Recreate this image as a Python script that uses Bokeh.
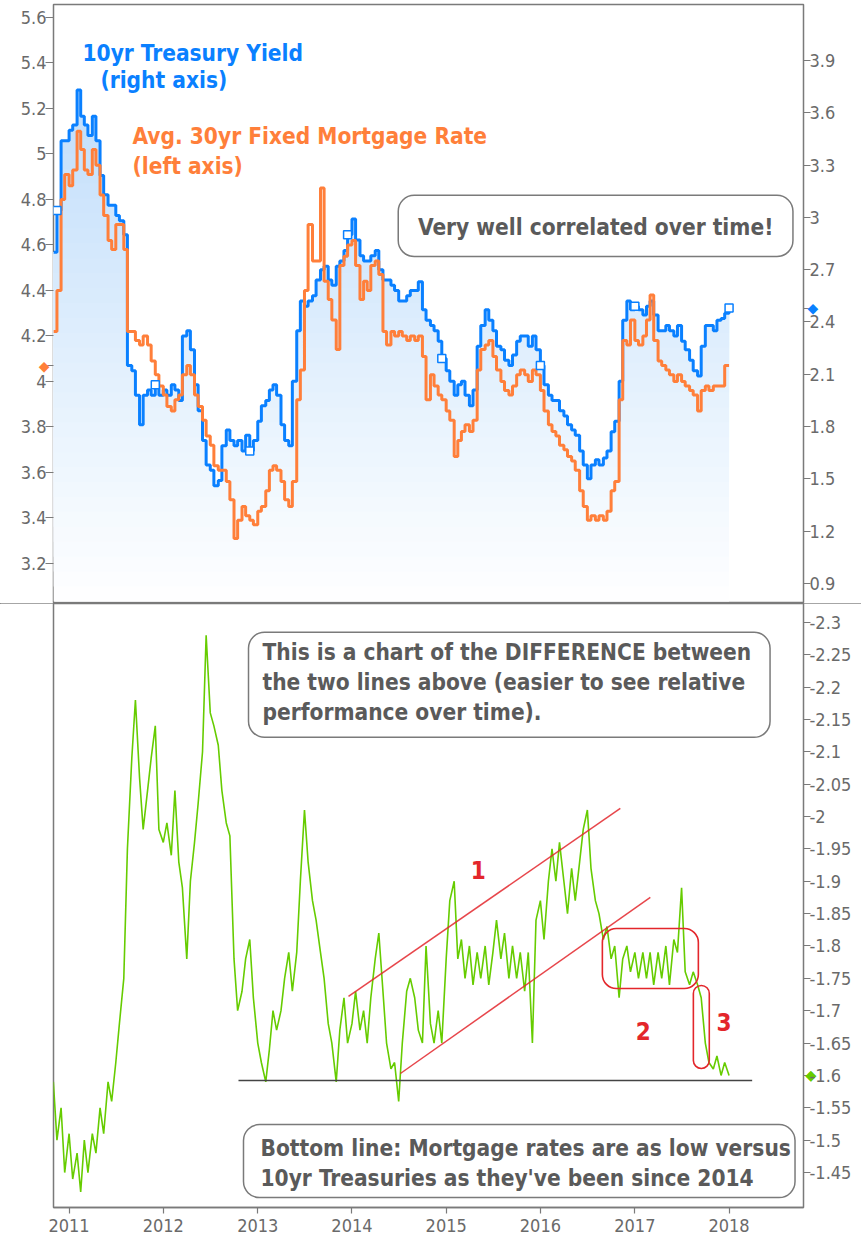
import numpy as np
import pandas as pd
from bokeh.plotting import figure
from bokeh.models import (Range1d, LinearAxis, FixedTicker, DatetimeTickFormatter,
                          Label, BoxAnnotation)
from bokeh.layouts import column
from bokeh.embed import file_html
from bokeh.resources import INLINE

# ---------------- data (semi-monthly readings, Nov 2010 .. Jan 2018) ----------------
treasury = [
    2.80, 3.04, 3.44, 3.44, 3.50, 3.53, 3.73, 3.58, 3.53, 3.47,
    3.58, 3.44, 3.24, 3.13, 3.07, 3.07, 3.01, 2.98, 2.90, 2.15,
    2.12, 1.98, 1.81, 1.98, 2.01, 1.98, 2.04, 1.98, 2.01, 1.98,
    2.04, 2.01, 1.95, 2.32, 2.35, 2.24, 2.04, 1.89, 1.72, 1.58,
    1.55, 1.46, 1.49, 1.69, 1.78, 1.72, 1.69, 1.72, 1.66, 1.75,
    1.66, 1.72, 1.83, 1.92, 1.95, 2.01, 2.04, 1.98, 1.81, 1.72,
    1.69, 2.06, 2.35, 2.52, 2.49, 2.52, 2.55, 2.64, 2.70, 2.72,
    2.64, 2.61, 2.72, 2.75, 2.81, 2.90, 2.99, 2.87, 2.78, 2.75,
    2.75, 2.78, 2.81, 2.70, 2.64, 2.64, 2.61, 2.58, 2.52, 2.52,
    2.55, 2.58, 2.58, 2.63, 2.47, 2.41, 2.38, 2.35, 2.29, 2.19,
    2.12, 2.06, 1.98, 2.04, 2.06, 1.98, 1.92, 2.01, 2.26, 2.38,
    2.47, 2.41, 2.35, 2.26, 2.24, 2.18, 2.15, 2.21, 2.29, 2.32,
    2.32, 2.26, 2.32, 2.24, 2.15, 2.04, 1.98, 1.95, 1.95, 1.89,
    1.86, 1.81, 1.78, 1.75, 1.66, 1.58, 1.50, 1.58, 1.61, 1.58,
    1.62, 1.66, 1.77, 1.83, 2.06, 2.41, 2.52, 2.47, 2.49, 2.47,
    2.44, 2.49, 2.52, 2.44, 2.35, 2.35, 2.38, 2.35, 2.32, 2.38,
    2.29, 2.24, 2.18, 2.12, 2.09, 2.26, 2.38, 2.38, 2.35, 2.41,
    2.42, 2.45, 2.48,
]
mortgage = [
    4.22, 4.40, 4.80, 4.91, 4.86, 4.93, 5.10, 5.02, 4.93, 4.91,
    5.02, 4.95, 4.82, 4.73, 4.62, 4.58, 4.69, 4.69, 4.58, 4.22,
    4.22, 4.18, 4.16, 4.20, 4.16, 4.09, 4.03, 3.98, 3.94, 3.89,
    3.87, 3.92, 3.94, 4.03, 4.07, 4.03, 3.94, 3.89, 3.83, 3.76,
    3.72, 3.63, 3.61, 3.61, 3.56, 3.48, 3.31, 3.39, 3.45, 3.41,
    3.39, 3.37, 3.43, 3.45, 3.52, 3.61, 3.63, 3.61, 3.56, 3.48,
    3.45, 3.56, 3.92, 4.05, 4.40, 4.69, 4.53, 4.53, 4.85, 4.44,
    4.36, 4.27, 4.14, 4.51, 4.55, 4.60, 4.62, 4.51, 4.36, 4.44,
    4.40, 4.51, 4.53, 4.47, 4.22, 4.16, 4.22, 4.20, 4.22, 4.20,
    4.18, 4.20, 4.18, 4.20, 4.11, 3.92, 4.03, 3.98, 3.94, 3.92,
    3.87, 3.83, 3.67, 3.74, 3.78, 3.81, 3.78, 3.83, 4.05, 4.14,
    4.16, 4.18, 4.11, 4.05, 4.00, 3.96, 3.94, 3.98, 4.03, 4.05,
    4.03, 4.00, 4.05, 4.03, 3.96, 3.87, 3.81, 3.78, 3.76, 3.72,
    3.70, 3.67, 3.65, 3.61, 3.52, 3.45, 3.39, 3.41, 3.39, 3.41,
    3.39, 3.43, 3.52, 3.56, 3.92, 4.18, 4.16, 4.27, 4.18, 4.16,
    4.20, 4.27, 4.38, 4.18, 4.09, 4.07, 4.05, 4.03, 4.00, 4.03,
    4.00, 3.98, 3.96, 3.94, 3.87, 3.96, 3.98, 3.96, 3.98, 3.98,
    3.98, 4.07, 4.07,
]
difference = [
    -1.59, -1.50, -1.55, -1.45, -1.51, -1.44, -1.48, -1.42, -1.50, -1.45,
    -1.51, -1.48, -1.55, -1.51, -1.59, -1.56, -1.62, -1.68, -1.75, -1.95,
    -2.09, -2.18, -2.06, -1.98, -2.04, -2.09, -2.14, -1.98, -1.96, -1.99,
    -1.94, -2.04, -1.93, -1.89, -1.78, -1.90, -1.96, -2.02, -2.10, -2.28,
    -2.16, -2.14, -2.11, -2.04, -1.99, -1.97, -1.78, -1.70, -1.73, -1.78,
    -1.81, -1.72, -1.65, -1.62, -1.59, -1.64, -1.70, -1.67, -1.70, -1.75,
    -1.79, -1.73, -1.79, -1.90, -2.01, -1.93, -1.87, -1.84, -1.79, -1.75,
    -1.68, -1.65, -1.59, -1.67, -1.72, -1.65, -1.68, -1.73, -1.67, -1.70,
    -1.65, -1.72, -1.78, -1.82, -1.73, -1.65, -1.61, -1.62, -1.56, -1.65,
    -1.73, -1.75, -1.72, -1.67, -1.65, -1.80, -1.68, -1.65, -1.70, -1.65,
    -1.78, -1.87, -1.90, -1.78, -1.81, -1.75, -1.80, -1.74, -1.79, -1.75,
    -1.80, -1.74, -1.79, -1.84, -1.78, -1.82, -1.75, -1.80, -1.75, -1.79,
    -1.73, -1.79, -1.65, -1.84, -1.87, -1.81, -1.90, -1.95, -1.90, -1.96,
    -1.90, -1.85, -1.92, -1.87, -1.93, -1.98, -2.01, -1.92, -1.87, -1.85,
    -1.81, -1.83, -1.78, -1.80, -1.72, -1.78, -1.80, -1.76, -1.79, -1.75,
    -1.79, -1.75, -1.79, -1.74, -1.79, -1.75, -1.80, -1.74, -1.81, -1.79,
    -1.89, -1.76, -1.74, -1.76, -1.74, -1.72, -1.65, -1.62, -1.61, -1.63,
    -1.60, -1.62, -1.60,
]
marker_idx = [1, 26, 50, 75, 99, 124, 148, 172]

left_ticks = [3.2, 3.4, 3.6, 3.8, 4.0, 4.2, 4.4, 4.6, 4.8, 5.0, 5.2, 5.4, 5.6]
left_labels = ["3.2", "3.4", "3.6", "3.8", "4", "4.2", "4.4", "4.6", "4.8", "5", "5.2", "5.4", "5.6"]
right_ticks = [0.9, 1.2, 1.5, 1.8, 2.1, 2.4, 2.7, 3.0, 3.3, 3.6, 3.9]
right_labels = ["0.9", "1.2", "1.5", "1.8", "2.1", "2.4", "2.7", "3", "3.3", "3.6", "3.9"]
diff_ticks = [-2.3, -2.25, -2.2, -2.15, -2.1, -2.05, -2.0, -1.95, -1.9, -1.85,
              -1.8, -1.75, -1.7, -1.65, -1.6, -1.55, -1.5, -1.45]
diff_labels = ["-2.3", "-2.25", "-2.2", "-2.15", "-2.1", "-2.05", "-2", "-1.95", "-1.9", "-1.85",
               "-1.8", "-1.75", "-1.7", "-1.65", "-1.6", "-1.55", "-1.5", "-1.45"]
year_ticks = [2011, 2012, 2013, 2014, 2015, 2016, 2017, 2018]

dates = pd.date_range("2010-11-01", periods=len(treasury), freq="SMS")
treas = np.array(treasury)
mort = np.array(mortgage)
diff = np.array(difference)

# ---------------- style ----------------
BLUE = "#0A80FF"
ORANGE = "#FF7F3A"
GREEN = "#66CC00"
RED = "#E3262B"
GREY_TXT = "#5A5A5A"
AX = "#7A7A7A"
TICK_TXT = "#6A6A6A"
FONT = "DejaVu Sans Condensed"


def yr(f):
    y = int(np.floor(f))
    a = pd.Timestamp(y, 1, 1)
    b = pd.Timestamp(y + 1, 1, 1)
    return (a + (b - a) * (f - y)).timestamp() * 1000.0


def tick_axis(ticks, last, color, y_range_name="default", tick_len=8, standoff=-4):
    """Inner axis next to the frame: tick marks + last-value diamond label."""
    allt = list(ticks) + [last]
    ax = LinearAxis(y_range_name=y_range_name, ticker=FixedTicker(ticks=allt))
    ov = {t: "" for t in ticks}
    ov[last] = "\u25c6"
    ax.major_label_overrides = ov
    ax.axis_line_color = None
    ax.major_tick_line_color = AX
    ax.major_tick_line_width = 1.2
    ax.major_tick_out = tick_len
    ax.major_tick_in = 0
    ax.minor_tick_line_color = None
    ax.minor_tick_out = 0
    ax.minor_tick_in = 0
    ax.major_label_standoff = standoff
    ax.major_label_text_font = "DejaVu Sans"
    ax.major_label_text_font_size = "14px"
    ax.major_label_text_color = color
    return ax


def label_axis(ticks, labels, y_range_name="default", standoff=0):
    """Outer axis: numeric tick labels only."""
    ax = LinearAxis(y_range_name=y_range_name, ticker=FixedTicker(ticks=ticks))
    ax.major_label_overrides = dict(zip(ticks, labels))
    ax.axis_line_color = None
    ax.major_tick_line_color = None
    ax.minor_tick_line_color = None
    ax.major_tick_out = 0
    ax.major_tick_in = 0
    ax.minor_tick_out = 0
    ax.minor_tick_in = 0
    ax.major_label_text_font = FONT
    ax.major_label_text_font_size = "18px"
    ax.major_label_text_color = TICK_TXT
    ax.major_label_standoff = standoff
    return ax


X0, X1 = yr(2010.8346), yr(2018.790)
xr = Range1d(X0, X1)

# ---------------- top panel ----------------
p1 = figure(width=861, height=603, x_range=xr, y_range=Range1d(3.024, 5.657),
            x_axis_type="datetime", x_axis_location=None, y_axis_location=None,
            toolbar_location=None, output_backend="svg", title=None,
            min_border_left=53, min_border_right=58, min_border_top=4, min_border_bottom=0)
p1.extra_y_ranges = {"treas": Range1d(0.785, 4.221)}
p1.grid.visible = False
p1.outline_line_color = AX
p1.outline_line_width = 1.5
p1.background_fill_color = "white"
p1.border_fill_color = "white"
p1.styles = {"box-shadow": "0px 1px 0px 0px #888888"}

p1.left = [tick_axis(left_ticks, float(mort[-1]), ORANGE, tick_len=8, standoff=-4),
           label_axis(left_ticks, left_labels, standoff=-11)]
p1.right = [tick_axis(right_ticks, float(treas[-1]), BLUE, "treas", tick_len=7, standoff=-3),
            label_axis(right_ticks, right_labels, "treas", standoff=-12)]

# gradient fill under the treasury line (stacked bands, darker toward top)
lo, hi = 0.785, 4.221
N = 40
edges = np.linspace(lo + 0.012, hi, N + 1)
C = np.array([182, 216, 250])
for k in range(N):
    a = edges[k]
    t = ((edges[k] + edges[k + 1]) / 2 - lo) / (hi - lo)
    rgb = 255 - t * (255 - C)
    col = "#%02x%02x%02x" % tuple(int(round(v)) for v in rgb)
    y2 = np.maximum(treas, a)
    p1.varea_step(x=dates, y1=np.full(len(treas), a), y2=y2, step_mode="after",
                  fill_color=col, fill_alpha=1.0, y_range_name="treas")

p1.step(dates, treas, mode="after", line_color=BLUE, line_width=3, y_range_name="treas")
p1.step(dates, mort, mode="after", line_color=ORANGE, line_width=3)
p1.scatter(dates[marker_idx], treas[marker_idx], marker="square", size=8,
           fill_color="white", line_color=BLUE, line_width=1.5, y_range_name="treas")


def lab(p, x, y, text, color, size="22.5px", align="left", bold=True, **kw):
    p.add_layout(Label(x=x, y=y, text=text, text_color=color, text_font=FONT,
                       text_font_style="bold" if bold else "normal",
                       text_font_size=size, text_align=align, text_baseline="middle", **kw))


lab(p1, yr(2011.142), 5.446, "10yr Treasury Yield", BLUE)
lab(p1, yr(2011.333), 5.323, "(right axis)", BLUE)
lab(p1, yr(2011.673), 5.081, "Avg. 30yr Fixed Mortgage Rate", ORANGE)
lab(p1, yr(2011.673), 4.949, "(left axis)", ORANGE)

p1.add_layout(BoxAnnotation(left=yr(2014.491), right=yr(2018.678), top=4.818, bottom=4.549,
                            fill_color="white", fill_alpha=1.0, line_color=AX, line_alpha=1.0,
                            line_width=1.5, border_radius=16))
lab(p1, yr(2016.585), 4.681, "Very well correlated over time!", GREY_TXT, align="center")

# ---------------- bottom panel ----------------
p2 = figure(width=861, height=635, x_range=xr, y_range=Range1d(-1.396, -2.329),
            x_axis_type="datetime", y_axis_location=None,
            toolbar_location=None, output_backend="svg", title=None,
            min_border_left=53, min_border_right=58, min_border_top=0, min_border_bottom=31)
p2.grid.visible = False
p2.outline_line_color = AX
p2.outline_line_width = 1.5
p2.border_fill_color = "white"

p2.right = [tick_axis(diff_ticks, float(diff[-1]), GREEN, tick_len=7, standoff=-5),
            label_axis(diff_ticks, diff_labels, standoff=-10)]

xa = p2.xaxis[0]
xa.ticker = FixedTicker(ticks=[yr(y) for y in year_ticks])
xa.formatter = DatetimeTickFormatter(years="%Y", months="%Y", days="%Y", hours="%Y")
xa.axis_line_color = AX
xa.axis_line_width = 1.5
xa.major_tick_line_color = AX
xa.major_tick_line_width = 1.2
xa.major_tick_out = 6
xa.major_tick_in = 0
xa.minor_tick_out = 0
xa.minor_tick_in = 0
xa.major_label_text_font = FONT
xa.major_label_text_font_size = "18px"
xa.major_label_text_color = TICK_TXT
xa.major_label_standoff = 5

p2.line(dates, diff, line_color=GREEN, line_width=1.6)

# support line and trend channel
p2.segment(x0=[yr(2012.796)], y0=[-1.5921], x1=[yr(2018.245)], y1=[-1.5921],
           line_color="#444444", line_width=1.5)
p2.segment(x0=[yr(2013.963), yr(2014.514)], y0=[-1.722, -1.603],
           x1=[yr(2016.846), yr(2017.164)], y1=[-2.0125, -1.875],
           line_color=RED, line_width=1.5, line_alpha=0.85)

p2.add_layout(BoxAnnotation(left=yr(2016.656), right=yr(2017.674), top=-1.827, bottom=-1.7343,
                            fill_alpha=0.0, line_color=RED, line_alpha=1.0, line_width=1.6,
                            border_radius=14))
p2.add_layout(BoxAnnotation(left=yr(2017.621), right=yr(2017.790), top=-1.739, bottom=-1.6107,
                            fill_alpha=0.0, line_color=RED, line_alpha=1.0, line_width=1.6,
                            border_radius=8))

lab(p2, yr(2015.341), -1.9167, "1", RED, align="center", size="24px")
lab(p2, yr(2017.089), -1.6694, "2", RED, align="center", size="24px")
lab(p2, yr(2017.947), -1.6833, "3", RED, align="center", size="24px")

p2.add_layout(BoxAnnotation(left=yr(2012.902), right=yr(2018.435), top=-2.2845, bottom=-2.1223,
                            fill_color="white", fill_alpha=1.0, line_color=AX, line_alpha=1.0,
                            line_width=1.5, border_radius=16))
lab(p2, yr(2013.050), -2.2536, "This is a chart of the DIFFERENCE between", GREY_TXT)
lab(p2, yr(2013.050), -2.2073, "the two lines above (easier to see relative", GREY_TXT)
lab(p2, yr(2013.050), -2.1609, "performance over time).", GREY_TXT)

p2.add_layout(BoxAnnotation(left=yr(2012.849), right=yr(2018.700), top=-1.5241, bottom=-1.4113,
                            fill_color="white", fill_alpha=1.0, line_color=AX, line_alpha=1.0,
                            line_width=1.5, border_radius=16))
lab(p2, yr(2013.029), -1.4886, "Bottom line: Mortgage rates are as low versus", GREY_TXT)
lab(p2, yr(2013.029), -1.4422, "10yr Treasuries as they've been since 2014", GREY_TXT)

layout = column(p1, p2, spacing=0)
html = file_html(layout, INLINE)
html = html.replace("<body>", '<body style="overflow:hidden">', 1)
open("out.html", "w").write(html)
